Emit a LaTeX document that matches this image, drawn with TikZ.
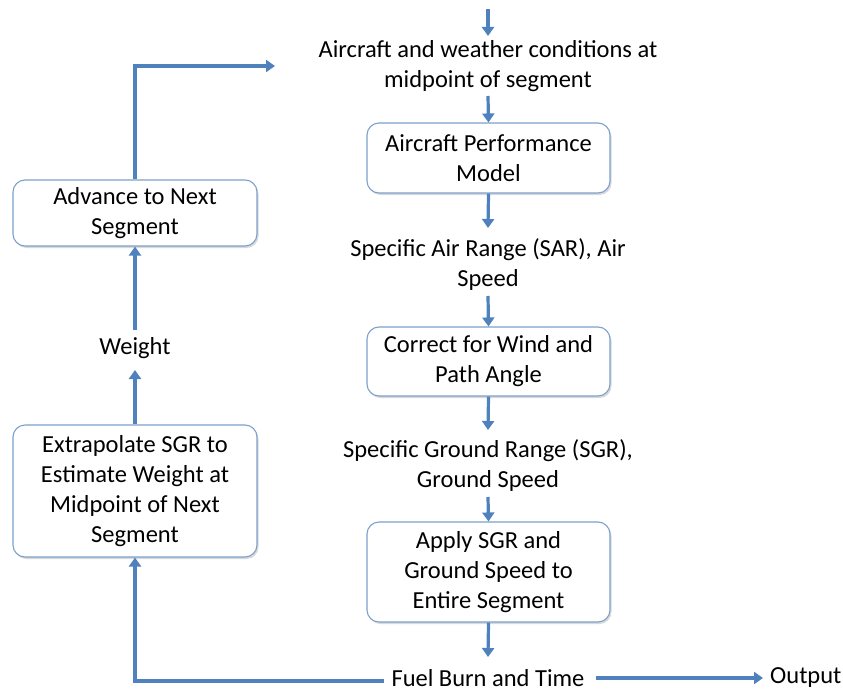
\documentclass[tikz,border=0pt]{standalone}
\usepackage{fontspec}
\setmainfont{Carlito}
\usetikzlibrary{arrows.meta,shadows}
\definecolor{arrowblue}{RGB}{79,129,189}
\definecolor{boxblue}{RGB}{125,160,205}
\tikzset{
  flow/.style={draw=arrowblue,line width=3.2pt,-{Triangle[length=9pt,width=12pt]}},
  box/.style={draw=boxblue,line width=1.1pt,rounded corners=12pt,fill=white,align=center,
    font=\fontsize{24.5}{30}\selectfont,inner sep=0pt,
    drop shadow={shadow xshift=1.5pt,shadow yshift=-2pt,fill=black!25,opacity=0.6}},
  lbl/.style={align=center,font=\fontsize{24.5}{30}\selectfont,inner sep=0pt}
}
\begin{document}
\begin{tikzpicture}[x=1pt,y=-1pt]
\useasboundingbox (0,0) rectangle (843,690);
% centre column
\coordinate (top) at (488,9);
\node[lbl] (cond) at (488,66) {Aircraft and weather conditions at\\midpoint of segment};
\node[box,minimum width=243pt,minimum height=70pt] (perf) at (488.5,158) {Aircraft Performance\\Model};
\node[lbl] (sar) at (488,265) {Specific Air Range (SAR), Air\\Speed};
\node[box,minimum width=243pt,minimum height=69pt] (wind) at (488.5,361.5) {Correct for Wind and\\Path Angle};
\node[lbl] (sgr) at (488,466) {Specific Ground Range (SGR),\\Ground Speed};
\node[box,minimum width=243pt,minimum height=100pt] (apply) at (488.5,572) {Apply SGR and\\Ground Speed to\\Entire Segment};
\node[lbl] (fuel) at (488,678) {Fuel Burn and Time};
\node[lbl,anchor=west] (out) at (770,678) {Output};
% left column
\node[box,minimum width=244pt,minimum height=132pt] (extra) at (135,491) {Extrapolate SGR to\\Estimate Weight at\\Midpoint of Next\\Segment};
\node[lbl] (weight) at (135,348) {Weight};
\node[box,minimum width=244pt,minimum height=66pt] (adv) at (135,213) {Advance to Next\\Segment};
\coordinate (corner1) at (135,681);
\coordinate (corner2) at (135,66);
\coordinate (tip) at (275,66);
% connectors
\draw[flow] (top) -- (488,36);
\draw[flow] (488,96) -- (perf.north);
\draw[flow] (perf.south) -- (488,228);
\draw[flow] (488,296) -- (wind.north);
\draw[flow] (wind.south) -- (488,430);
\draw[flow] (488,497) -- (apply.north);
\draw[flow] (apply.south) -- (488,657);
\draw[flow,shorten >=7pt] (596,678) -- (out.west);
\draw[flow] (384,681) -- (corner1) -- (extra.south);
\draw[flow] (extra.north) -- (135,370);
\draw[flow] (135,330) -- (adv.south);
\draw[flow] (adv.north) -- (corner2) -- (tip);
\end{tikzpicture}
\end{document}
